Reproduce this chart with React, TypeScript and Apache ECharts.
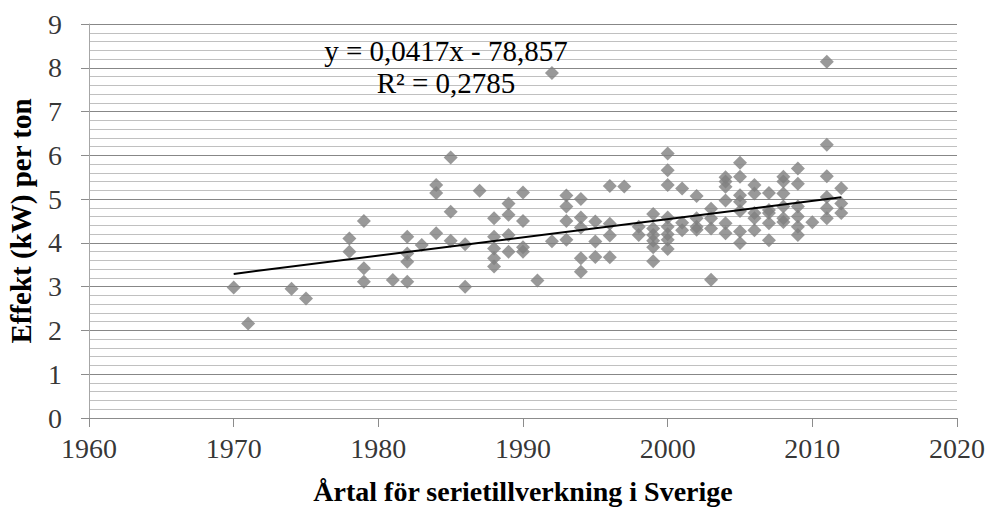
import React, { useEffect, useRef } from "react";
import * as echarts from "echarts";

// Production-start year of each model group
const years: number[] = [
  1970, 1971, 1974, 1975, 1978, 1979, 1981, 1982, 1983, 1984, 1985, 1986,
  1987, 1988, 1989, 1990, 1991, 1992, 1993, 1994, 1995, 1996, 1997, 1998,
  1999, 2000, 2001, 2002, 2003, 2004, 2005, 2006, 2007, 2008, 2009, 2010,
  2011, 2012,
];

// Engine power per ton (kW/t) for the machines introduced in each year
const effectByYear: number[][] = [
  [2.98],
  [2.16],
  [2.95],
  [2.73],
  [4.1, 3.8],
  [4.5, 3.42, 3.11],
  [3.15],
  [4.14, 3.76, 3.57, 3.11],
  [3.95],
  [5.32, 5.14, 4.22],
  [5.95, 4.71, 4.05],
  [3.97, 3.0],
  [5.19],
  [4.56, 4.14, 3.87, 3.65, 3.46],
  [4.9, 4.64, 4.18, 3.8],
  [5.15, 4.5, 3.9, 3.8],
  [3.14],
  [7.88, 4.04],
  [5.08, 4.83, 4.5, 4.07],
  [5.0, 4.58, 4.35, 3.65, 3.34],
  [4.49, 4.03, 3.68],
  [5.3, 4.44, 4.17, 3.67],
  [5.29],
  [4.37, 4.18],
  [4.66, 4.33, 4.18, 4.05, 3.9, 3.58],
  [6.04, 5.66, 5.32, 4.58, 4.37, 4.2, 4.07, 3.86],
  [5.24, 4.46, 4.29],
  [5.07, 4.56, 4.37, 4.3],
  [4.78, 4.56, 4.33, 3.16],
  [5.5, 5.4, 5.28, 4.97, 4.45, 4.22],
  [5.83, 5.51, 5.09, 4.94, 4.73, 4.26, 4.0],
  [5.32, 5.13, 4.68, 4.56, 4.29],
  [5.14, 4.75, 4.68, 4.45, 4.06],
  [5.51, 5.4, 5.13, 4.83, 4.56, 4.48],
  [5.7, 5.35, 4.83, 4.6, 4.37, 4.18],
  [4.47],
  [8.14, 6.24, 5.52, 5.05, 4.79, 4.56],
  [5.25, 4.9, 4.68],
];

// Linear trend fitted to the points
const trendSlope = 0.0417;
const trendIntercept = -78.857;
const rSquared = 0.2785;
const trendRange: number[] = [1970, 2012];

// Axis ranges and tick labels
const xMin = 1960;
const xMax = 2020;
const xStep = 10;
const xTickLabels: number[] = [1960, 1970, 1980, 1990, 2000, 2010, 2020];
const yMin = 0;
const yMax = 9;
const yStep = 1;
const yTickLabels: number[] = [0, 1, 2, 3, 4, 5, 6, 7, 8, 9];

const FONT = "Liberation Serif";

const sv = (n: number) => String(n).replace(".", ",");

export default function App() {
  const ref = useRef<HTMLDivElement>(null);

  useEffect(() => {
    if (!ref.current) return;
    const chart = echarts.init(ref.current, undefined, { renderer: "svg" });

    const points: number[][] = [];
    years.forEach((yr, i) => {
      effectByYear[i].forEach((v) => points.push([yr, v]));
    });

    const trend = trendRange.map((x) => [x, trendSlope * x + trendIntercept]);

    const equation = `y = ${sv(trendSlope)}x - ${sv(Math.abs(trendIntercept))}`;
    const r2 = `R² = ${sv(rSquared)}`;

    const tickLabelStyle = {
      show: true,
      fontFamily: FONT,
      fontSize: 28,
      color: "#000",
    };

    chart.setOption({
      animation: false,
      backgroundColor: "#ffffff",
      textStyle: { fontFamily: FONT, color: "#000" },
      grid: {
        left: 89,
        right: 33,
        top: 24,
        bottom: 90,
        containLabel: false,
        outerBoundsMode: "none",
      },
      xAxis: {
        type: "value",
        min: xMin,
        max: xMax,
        interval: xStep,
        name: "Årtal för serietillverkning i Sverige",
        nameLocation: "middle",
        nameGap: 58,
        nameTextStyle: {
          fontFamily: FONT,
          fontWeight: "bold",
          fontSize: 28,
          lineHeight: 30,
          color: "#000",
        },
        axisLine: { show: true, lineStyle: { color: "#8c8c8c", width: 1 } },
        axisTick: {
          show: true,
          inside: false,
          length: 9,
          lineStyle: { color: "#8c8c8c", width: 1 },
        },
        axisLabel: { show: false },
        splitLine: { show: false },
      },
      yAxis: {
        type: "value",
        min: yMin,
        max: yMax,
        interval: yStep,
        name: "Effekt (kW) per ton",
        nameLocation: "middle",
        nameRotate: 90,
        nameGap: 54,
        nameTextStyle: {
          fontFamily: FONT,
          fontWeight: "bold",
          fontSize: 29,
          color: "#000",
        },
        axisLine: { show: true, lineStyle: { color: "#a6a6a6", width: 1 } },
        axisTick: {
          show: true,
          inside: false,
          length: 8,
          lineStyle: { color: "#8c8c8c", width: 1 },
        },
        axisLabel: { show: false },
        splitLine: { show: true, lineStyle: { color: "#878787", width: 1 } },
        minorTick: { show: false, splitNumber: 5 },
        minorSplitLine: { show: true, lineStyle: { color: "#c0c0c0", width: 1 } },
      },
      series: [
        {
          type: "scatter",
          data: points,
          symbol: "diamond",
          symbolSize: 14,
          itemStyle: { color: "#808080" },
          z: 3,
        },
        {
          type: "line",
          data: trend,
          symbol: "none",
          lineStyle: { color: "#000000", width: 2 },
          z: 4,
        },
        // Tick labels for the year axis, placed on the axis through its scale
        {
          type: "scatter",
          silent: true,
          clip: false,
          symbolSize: 0,
          data: xTickLabels.map((t) => [t, yMin]),
          label: {
            ...tickLabelStyle,
            position: "bottom",
            distance: 16,
            formatter: (p: any) => String(p.value[0]),
          },
          z: 5,
        },
        // Tick labels for the power axis
        {
          type: "scatter",
          silent: true,
          clip: false,
          symbolSize: 0,
          data: yTickLabels.map((t) => [xMin, t]),
          label: {
            ...tickLabelStyle,
            position: "left",
            distance: 27,
            formatter: (p: any) => String(p.value[1]),
          },
          z: 5,
        },
      ],
      graphic: [
        {
          type: "text",
          x: 446,
          y: 51,
          style: {
            text: equation,
            fontFamily: FONT,
            fontSize: 29,
            fill: "#000",
            textAlign: "center",
            textVerticalAlign: "middle",
          },
          z: 10,
        },
        {
          type: "text",
          x: 446,
          y: 83,
          style: {
            text: r2,
            fontFamily: FONT,
            fontSize: 29,
            fill: "#000",
            textAlign: "center",
            textVerticalAlign: "middle",
          },
          z: 10,
        },
      ],
    });

    return () => chart.dispose();
  }, []);

  return (
    <div
      ref={ref}
      style={{ position: "fixed", left: 0, top: 0, width: 990, height: 508 }}
    />
  );
}
